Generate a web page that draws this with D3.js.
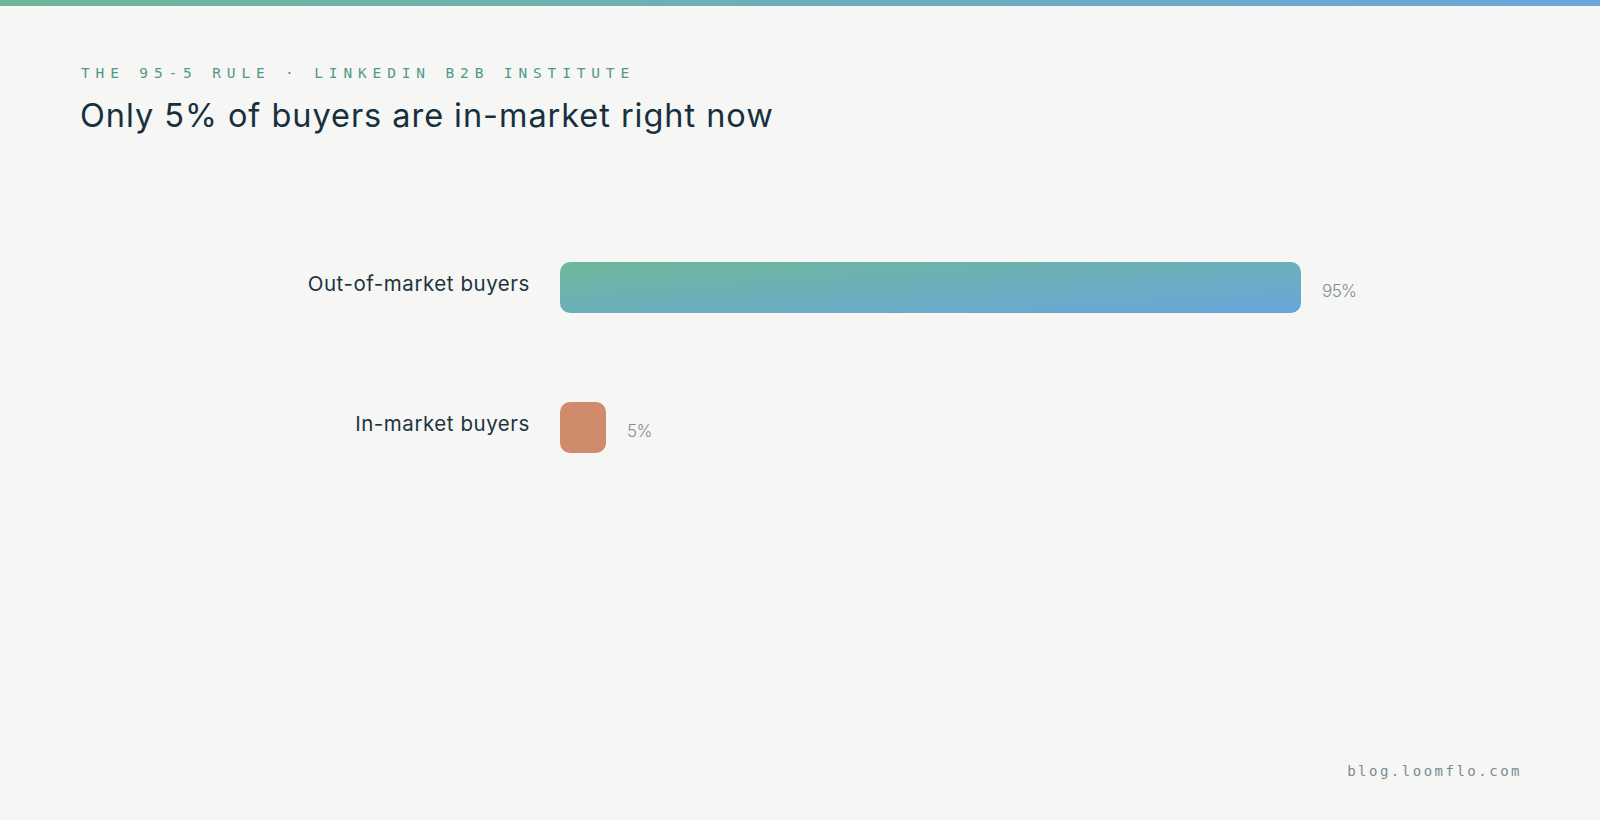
<!DOCTYPE html>
<html>
<head>
<meta charset="utf-8">
<script src="https://cdn.jsdelivr.net/npm/d3@7"></script>
<style>
  html, body { margin: 0; padding: 0; background: #f6f6f4; }
  svg { display: block; }
</style>
</head>
<body>
<svg id="chart" width="1600" height="820"></svg>
<script>
// ---- data ----
const categories = ["Out-of-market buyers", "In-market buyers"];
const values = [95, 5];
const valueLabels = ["95%", "5%"];
const eyebrow = "THE 95-5 RULE · LINKEDIN B2B INSTITUTE";
const title = "Only 5% of buyers are in-market right now";
const footer = "blog.loomflo.com";

// ---- layout ----
const W = 1600, H = 820;
const svg = d3.select("#chart");
const defs = svg.append("defs");

const topGrad = defs.append("linearGradient").attr("id", "topGrad")
  .attr("x1", "0%").attr("y1", "0%").attr("x2", "100%").attr("y2", "0%");
topGrad.append("stop").attr("offset", "0%").attr("stop-color", "#6fb89a");
topGrad.append("stop").attr("offset", "100%").attr("stop-color", "#6aa6da");

const barGrad = defs.append("linearGradient").attr("id", "barGrad")
  .attr("x1", "0%").attr("y1", "0%").attr("x2", "100%").attr("y2", "100%");
barGrad.append("stop").attr("offset", "0%").attr("stop-color", "#6eb89a");
barGrad.append("stop").attr("offset", "100%").attr("stop-color", "#69a6dc");

svg.append("rect").attr("width", W).attr("height", H).attr("fill", "#f6f6f4");
svg.append("rect").attr("x", 0).attr("y", 0).attr("width", W).attr("height", 6).attr("fill", "url(#topGrad)");

svg.append("text")
  .attr("x", 81).attr("y", 77.5)
  .attr("font-family", "'DejaVu Sans Mono', monospace")
  .attr("font-size", 14.5)
  .attr("letter-spacing", "5.85px")
  .attr("fill", "#4f9a86")
  .text(eyebrow);

svg.append("text")
  .attr("x", 80).attr("y", 126.5)
  .attr("font-family", "Inter, 'Noto Sans', sans-serif")
  .attr("font-size", 32.5)
  .attr("font-weight", 400)
  .attr("letter-spacing", "0.95px")
  .attr("fill", "#17303f")
  .text(title);

const barX0 = 560;
const x = d3.scaleLinear().domain([0, 100]).range([0, 780]);
const y = d3.scaleBand().domain(categories).range([262, 453]).paddingInner(0.6357).paddingOuter(0);
const minBarW = 46;

const g = svg.append("g");
const rows = g.selectAll("g.row").data(categories.map((c, i) => ({ c, v: values[i], l: valueLabels[i], i })))
  .join("g").attr("class", "row");

rows.append("rect")
  .attr("x", barX0)
  .attr("y", d => y(d.c))
  .attr("width", d => Math.max(x(d.v), minBarW))
  .attr("height", y.bandwidth())
  .attr("rx", 10).attr("ry", 10)
  .attr("fill", d => d.i === 0 ? "url(#barGrad)" : "#d08a6c");

rows.append("text")
  .attr("x", barX0 - 30)
  .attr("y", d => y(d.c) + y.bandwidth() / 2 + 3.3)
  .attr("text-anchor", "end")
  .attr("font-family", "Inter, 'Noto Sans', sans-serif")
  .attr("font-size", 20.5)
  .attr("letter-spacing", "0.55px")
  .attr("fill", "#1d3442")
  .text(d => d.c);

rows.append("text")
  .attr("x", d => barX0 + Math.max(x(d.v), minBarW) + 21)
  .attr("y", d => y(d.c) + y.bandwidth() / 2 + 9.2)
  .attr("font-family", "Inter, 'Noto Sans', sans-serif")
  .attr("font-size", 17)
  .attr("font-weight", 300)
  .attr("letter-spacing", "-0.6px")
  .attr("fill", "#808d94")
  .text(d => d.l);

svg.append("text")
  .attr("x", 1522).attr("y", 776)
  .attr("text-anchor", "end")
  .attr("font-family", "'DejaVu Sans Mono', monospace")
  .attr("font-size", 14)
  .attr("letter-spacing", "2.5px")
  .attr("fill", "#7a8b94")
  .text(footer);
</script>
</body>
</html>
